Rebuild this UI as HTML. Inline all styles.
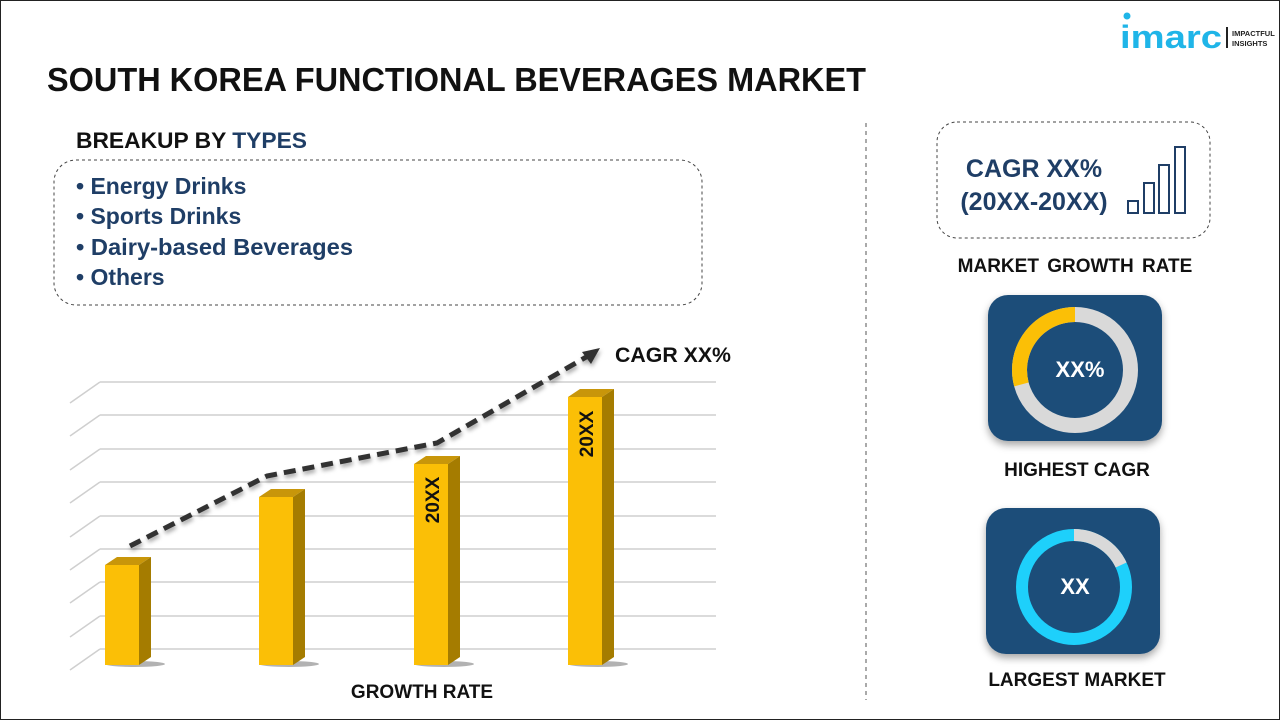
<!DOCTYPE html>
<html><head><meta charset="utf-8"><style>
html,body{margin:0;padding:0;background:#fff}
body{width:1280px;height:720px;overflow:hidden;font-family:"Liberation Sans",Arial,sans-serif}
</style></head><body>
<svg width="1280" height="720" xmlns="http://www.w3.org/2000/svg" font-family="Liberation Sans, Arial, sans-serif">
<defs>
<filter id="sh" x="-20%" y="-20%" width="140%" height="140%"><feDropShadow dx="0" dy="4" stdDeviation="4" flood-opacity="0.35"/></filter>
<filter id="ls" x="-10%" y="-10%" width="120%" height="130%"><feDropShadow dx="1" dy="3" stdDeviation="2" flood-opacity="0.35"/></filter>
</defs>
<rect x="0.5" y="0.5" width="1279" height="719" fill="#fff" stroke="#222" stroke-width="1"/>
<!-- logo -->
<circle cx="1127" cy="16" r="3.5" fill="#1fb5e8"/>
<text x="1120" y="48" font-size="32" font-weight="bold" fill="#1fb5e8" textLength="102" lengthAdjust="spacingAndGlyphs">imarc</text>
<rect x="1226" y="27" width="2" height="21" fill="#222"/>
<text x="1232" y="36" font-size="7.5" font-weight="bold" fill="#222">IMPACTFUL</text>
<text x="1232" y="46" font-size="7.5" font-weight="bold" fill="#222">INSIGHTS</text>
<!-- title -->
<text x="47" y="91" font-size="33" font-weight="bold" fill="#111" textLength="819" lengthAdjust="spacingAndGlyphs">SOUTH KOREA FUNCTIONAL BEVERAGES MARKET</text>
<text x="76" y="148" font-size="22" font-weight="bold" fill="#111" textLength="231" lengthAdjust="spacingAndGlyphs">BREAKUP BY <tspan fill="#1f3e66">TYPES</tspan></text>
<rect x="54" y="160" width="648" height="145" rx="22" fill="none" stroke="#444" stroke-dasharray="3,3"/>
<g font-size="23" font-weight="bold" fill="#1f3e66">
<text x="76" y="194">• Energy Drinks</text>
<text x="76" y="224">• Sports Drinks</text>
<text x="76" y="255" textLength="277" lengthAdjust="spacingAndGlyphs">• Dairy-based Beverages</text>
<text x="76" y="285">• Others</text>
</g>
<!-- divider -->
<line x1="866" y1="123" x2="866" y2="700" stroke="#555" stroke-dasharray="4,4"/>
<!-- grid -->
<g stroke="#cfcfcf" stroke-width="1.5" fill="none">
<path d="M100 382H716M100 382L70 403"/>
<path d="M100 415H716M100 415L70 436"/>
<path d="M100 449H716M100 449L70 470"/>
<path d="M100 482H716M100 482L70 503"/>
<path d="M100 516H716M100 516L70 537"/>
<path d="M100 549H716M100 549L70 570"/>
<path d="M100 582H716M100 582L70 603"/>
<path d="M100 616H716M100 616L70 637"/>
<path d="M100 649H716M100 649L70 670"/>
</g>
<!-- bars -->
<g>
<ellipse cx="135" cy="664" rx="30" ry="3" fill="#000" opacity="0.3"/>
<polygon points="105,565 117,557 151,557 139,565" fill="#c8960a"/>
<polygon points="139,565 151,557 151,657 139,665" fill="#a57c00"/>
<rect x="105" y="565" width="34" height="100" fill="#fbbf06"/>
<ellipse cx="289" cy="664" rx="30" ry="3" fill="#000" opacity="0.3"/>
<polygon points="259,497 271,489 305,489 293,497" fill="#c8960a"/>
<polygon points="293,497 305,489 305,657 293,665" fill="#a57c00"/>
<rect x="259" y="497" width="34" height="168" fill="#fbbf06"/>
<ellipse cx="444" cy="664" rx="30" ry="3" fill="#000" opacity="0.3"/>
<polygon points="414,464 426,456 460,456 448,464" fill="#c8960a"/>
<polygon points="448,464 460,456 460,657 448,665" fill="#a57c00"/>
<rect x="414" y="464" width="34" height="201" fill="#fbbf06"/>
<ellipse cx="598" cy="664" rx="30" ry="3" fill="#000" opacity="0.3"/>
<polygon points="568,397 580,389 614,389 602,397" fill="#c8960a"/>
<polygon points="602,397 614,389 614,657 602,665" fill="#a57c00"/>
<rect x="568" y="397" width="34" height="268" fill="#fbbf06"/>
</g>
<text transform="translate(439,500) rotate(-90)" text-anchor="middle" font-size="19" font-weight="bold" fill="#111">20XX</text>
<text transform="translate(593,434) rotate(-90)" text-anchor="middle" font-size="19" font-weight="bold" fill="#111">20XX</text>
<!-- trend line -->
<g filter="url(#ls)">
<polyline points="130,546 267,476 437,443 588,356" fill="none" stroke="#333" stroke-width="5" stroke-dasharray="12,7"/>
<polygon points="600,348 582,352 591,364" fill="#333"/>
</g>
<text x="615" y="362" font-size="21" font-weight="bold" fill="#111" textLength="116" lengthAdjust="spacingAndGlyphs">CAGR XX%</text>
<text x="422" y="698" text-anchor="middle" font-size="19" font-weight="bold" fill="#111">GROWTH RATE</text>
<!-- right panel -->
<rect x="937" y="122" width="273" height="116" rx="20" fill="none" stroke="#444" stroke-dasharray="3,3"/>
<text x="1034" y="177" text-anchor="middle" font-size="25" font-weight="bold" fill="#1f3e66">CAGR XX%</text>
<text x="1034" y="210" text-anchor="middle" font-size="25" font-weight="bold" fill="#1f3e66">(20XX-20XX)</text>
<g fill="none" stroke="#1f3e66" stroke-width="2">
<rect x="1128" y="201" width="10" height="12"/>
<rect x="1144" y="183" width="10" height="30"/>
<rect x="1159" y="165" width="10" height="48"/>
<rect x="1175" y="147" width="10" height="66"/>
</g>
<text x="1075" y="272" text-anchor="middle" font-size="19" font-weight="bold" fill="#111" word-spacing="3">MARKET GROWTH RATE</text>
<rect x="988" y="295" width="174" height="146" rx="20" fill="#1f4e79" filter="url(#sh)"/>
<circle cx="1075" cy="370" r="55.5" fill="none" stroke="#d9d9d9" stroke-width="15"/>
<path d="M1075 314.5 A55.5 55.5 0 0 0 1021.4 384.4" fill="none" stroke="#fbbf06" stroke-width="15"/>
<text x="1080" y="377" text-anchor="middle" font-size="22" font-weight="bold" fill="#fff">XX%</text>
<text x="1077" y="476" text-anchor="middle" font-size="19" font-weight="bold" fill="#111">HIGHEST CAGR</text>
<rect x="986" y="508" width="174" height="146" rx="20" fill="#1f4e79" filter="url(#sh)"/>
<circle cx="1074" cy="587" r="52" fill="none" stroke="#1ed0fb" stroke-width="12"/>
<path d="M1074 535 A52 52 0 0 1 1121.1 565" fill="none" stroke="#d9d9d9" stroke-width="12"/>
<text x="1075" y="594" text-anchor="middle" font-size="22" font-weight="bold" fill="#fff">XX</text>
<text x="1077" y="686" text-anchor="middle" font-size="19" font-weight="bold" fill="#111">LARGEST MARKET</text>
</svg>
</body></html>
